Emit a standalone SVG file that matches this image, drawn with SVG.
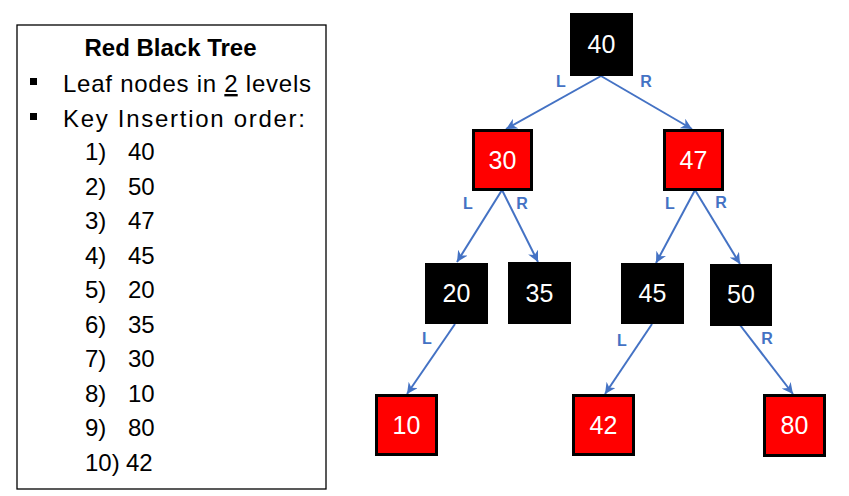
<svg xmlns="http://www.w3.org/2000/svg" width="849" height="496" viewBox="0 0 849 496">
<defs>
<marker id="arr" viewBox="0 0 10 10" refX="10" refY="5" markerWidth="5.5" markerHeight="5.5" orient="auto" markerUnits="strokeWidth">
<path d="M0,0 L10,5 L0,10 L3,5 z" fill="#4472C4"/>
</marker>
<style>
.t{font-family:"Liberation Sans",Arial,sans-serif;font-size:24px;fill:#000}
.b{font-family:"Liberation Sans",Arial,sans-serif;font-size:24px;font-weight:bold;fill:#000}
.k{fill:#000}
.r{fill:#FF0000;stroke:#000;stroke-width:3}
.n{font-family:"Liberation Sans",Arial,sans-serif;font-size:25px;fill:#fff;text-anchor:middle}
.e{stroke:#4472C4;stroke-width:2;fill:none;marker-end:url(#arr)}
.l{font-family:"Liberation Sans",Arial,sans-serif;font-size:16px;font-weight:bold;fill:#4472C4;text-anchor:middle}
</style>
</defs>
<rect width="849" height="496" fill="#fff"/>
<g id="legend">
<rect x="17" y="25" width="309" height="464" fill="#fff" stroke="#000" stroke-width="1.3"/>
<text class="b" x="170.5" y="56" text-anchor="middle">Red Black Tree</text>
<rect x="30" y="78" width="7" height="7" fill="#000"/>
<rect x="30" y="113" width="7" height="7" fill="#000"/>
<text class="t" x="63" y="92" textLength="248" lengthAdjust="spacing">Leaf nodes in <tspan text-decoration="underline">2</tspan> levels</text>
<text class="t" x="63" y="127" textLength="242" lengthAdjust="spacing">Key Insertion order:</text>
<text class="t" x="85" y="160">1)</text><text class="t" x="128" y="160">40</text>
<text class="t" x="85" y="195">2)</text><text class="t" x="128" y="195">50</text>
<text class="t" x="85" y="229">3)</text><text class="t" x="128" y="229">47</text>
<text class="t" x="85" y="264">4)</text><text class="t" x="128" y="264">45</text>
<text class="t" x="85" y="298">5)</text><text class="t" x="128" y="298">20</text>
<text class="t" x="85" y="333">6)</text><text class="t" x="128" y="333">35</text>
<text class="t" x="85" y="367">7)</text><text class="t" x="128" y="367">30</text>
<text class="t" x="85" y="402">8)</text><text class="t" x="128" y="402">10</text>
<text class="t" x="85" y="436">9)</text><text class="t" x="128" y="436">80</text>
<text class="t" x="85" y="471">10)</text><text class="t" x="126" y="471">42</text>
</g>
<g id="connectors">
<line class="e" x1="601" y1="76" x2="506" y2="129"/>
<line class="e" x1="601" y1="76" x2="692" y2="129"/>
<line class="e" x1="502" y1="190" x2="457" y2="262"/>
<line class="e" x1="502" y1="190" x2="538" y2="262"/>
<line class="e" x1="695" y1="190" x2="656" y2="263"/>
<line class="e" x1="695" y1="190" x2="740" y2="264"/>
<line class="e" x1="455" y1="324" x2="407" y2="394"/>
<line class="e" x1="652" y1="324" x2="605" y2="394"/>
<line class="e" x1="740" y1="325" x2="793" y2="394"/>
<text class="l" x="561" y="87">L</text>
<text class="l" x="646" y="87">R</text>
<text class="l" x="468" y="209">L</text>
<text class="l" x="522" y="209">R</text>
<text class="l" x="670" y="209">L</text>
<text class="l" x="721" y="208">R</text>
<text class="l" x="427" y="344">L</text>
<text class="l" x="622" y="346">L</text>
<text class="l" x="767" y="344">R</text>
</g>
<g id="n40"><rect class="k" x="570" y="13" width="63" height="63"/><text class="n" x="601.5" y="53">40</text></g>
<g id="n30"><rect class="r" x="473.5" y="130.5" width="58" height="59"/><text class="n" x="502.5" y="169">30</text></g>
<g id="n47"><rect class="r" x="664.5" y="130.5" width="58" height="59"/><text class="n" x="693.5" y="169">47</text></g>
<g id="n20"><rect class="k" x="425" y="263" width="63" height="61"/><text class="n" x="456.5" y="302">20</text></g>
<g id="n35"><rect class="k" x="508" y="262" width="63" height="62"/><text class="n" x="539.5" y="302">35</text></g>
<g id="n45"><rect class="k" x="621" y="263" width="63" height="61"/><text class="n" x="652.5" y="302">45</text></g>
<g id="n50"><rect class="k" x="710" y="264" width="62" height="62"/><text class="n" x="741" y="303">50</text></g>
<g id="n10"><rect class="r" x="376.5" y="395.5" width="60" height="59"/><text class="n" x="406.5" y="434">10</text></g>
<g id="n42"><rect class="r" x="573.5" y="395.5" width="60" height="59"/><text class="n" x="603.5" y="434">42</text></g>
<g id="n80"><rect class="r" x="764.5" y="395.5" width="60" height="60"/><text class="n" x="794.5" y="434">80</text></g>
</svg>
